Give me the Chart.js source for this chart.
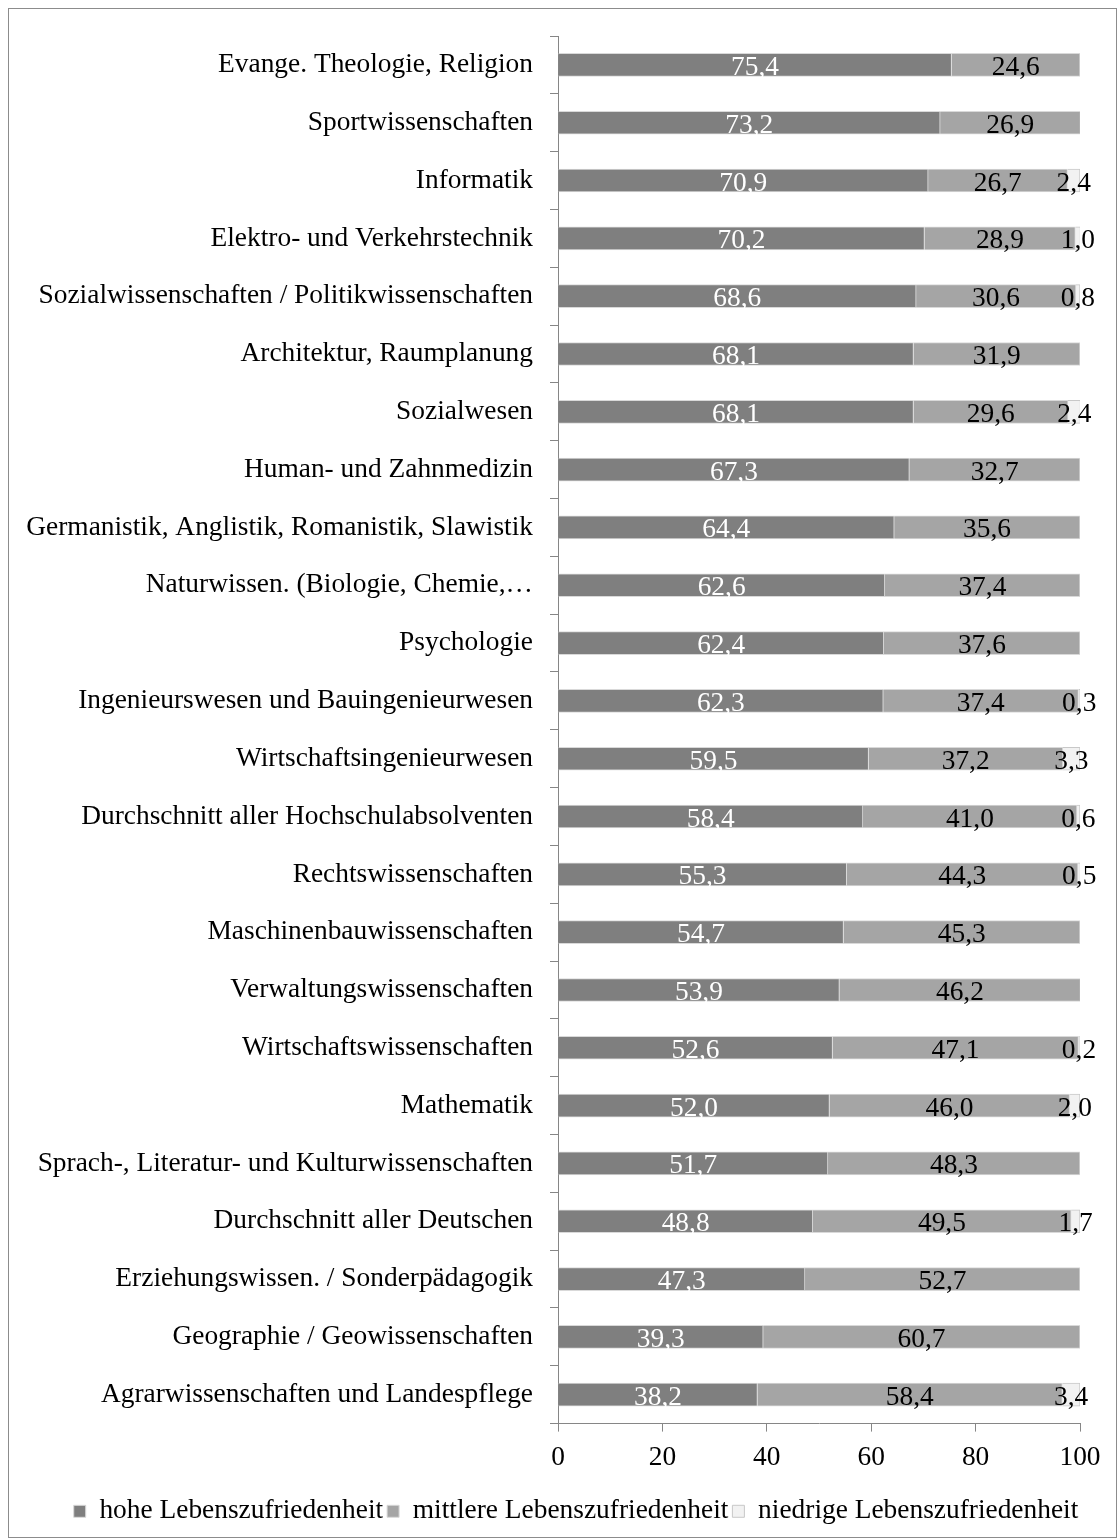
<!DOCTYPE html>
<html>
<head>
<meta charset="utf-8">
<script src="https://cdn.jsdelivr.net/npm/chart.js@4/dist/chart.umd.min.js"></script>
<style>
html,body{margin:0;padding:0;background:#fff;}
#wrap{position:relative;width:1118px;height:1539px;}
</style>
</head>
<body>
<div id="wrap"><canvas id="c" width="1118" height="1539"></canvas></div>
<script>
const categories = [
  "Evange. Theologie, Religion",
  "Sportwissenschaften",
  "Informatik",
  "Elektro- und Verkehrstechnik",
  "Sozialwissenschaften / Politikwissenschaften",
  "Architektur, Raumplanung",
  "Sozialwesen",
  "Human- und Zahnmedizin",
  "Germanistik, Anglistik, Romanistik, Slawistik",
  "Naturwissen. (Biologie, Chemie,…",
  "Psychologie",
  "Ingenieurswesen und Bauingenieurwesen",
  "Wirtschaftsingenieurwesen",
  "Durchschnitt aller Hochschulabsolventen",
  "Rechtswissenschaften",
  "Maschinenbauwissenschaften",
  "Verwaltungswissenschaften",
  "Wirtschaftswissenschaften",
  "Mathematik",
  "Sprach-, Literatur- und Kulturwissenschaften",
  "Durchschnitt aller Deutschen",
  "Erziehungswissen. / Sonderpädagogik",
  "Geographie / Geowissenschaften",
  "Agrarwissenschaften und Landespflege"
];
const seriesNames = ["hohe Lebenszufriedenheit", "mittlere Lebenszufriedenheit", "niedrige Lebenszufriedenheit"];
const hohe = [75.4, 73.2, 70.9, 70.2, 68.6, 68.1, 68.1, 67.3, 64.4, 62.6, 62.4, 62.3, 59.5, 58.4, 55.3, 54.7, 53.9, 52.6, 52.0, 51.7, 48.8, 47.3, 39.3, 38.2];
const mittlere = [24.6, 26.9, 26.7, 28.9, 30.6, 31.9, 29.6, 32.7, 35.6, 37.4, 37.6, 37.4, 37.2, 41.0, 44.3, 45.3, 46.2, 47.1, 46.0, 48.3, 49.5, 52.7, 60.7, 58.4];
const niedrige = [null, null, 2.4, 1.0, 0.8, null, 2.4, null, null, null, null, 0.3, 3.3, 0.6, 0.5, null, null, 0.2, 2.0, null, 1.7, null, null, 3.4];
const xTicks = [0, 20, 40, 60, 80, 100];

const FONT = '"Liberation Serif", "Times New Roman", serif';
const FS = 27.4;
const AXIS = '#868686';

const labelPlugin = {
  id: 'segLabels',
  afterDatasetsDraw(chart) {
    const ctx = chart.ctx;
    ctx.save();
    ctx.font = FS + 'px ' + FONT;
    ctx.textAlign = 'center';
    ctx.textBaseline = 'alphabetic';
    chart.data.datasets.forEach((ds, di) => {
      const meta = chart.getDatasetMeta(di);
      meta.data.forEach((el, i) => {
        const v = ds.data[i];
        if (v === null || v === undefined) return;
        const cx = (el.x + el.base) / 2;
        ctx.fillStyle = di === 0 ? '#ffffff' : '#000000';
        ctx.fillText(v.toFixed(1).replace('.', ','), cx, el.y + 10);
      });
    });
    ctx.restore();
  }
};

const framePlugin = {
  id: 'frame',
  afterLayout(chart) {
    if (chart.legend) { chart.legend.left += 36; chart.legend.right += 36; }
  },
  beforeDraw(chart) {
    const ctx = chart.ctx;
    ctx.save();
    ctx.fillStyle = '#fff';
    ctx.fillRect(0, 0, chart.width, chart.height);
    ctx.strokeStyle = '#8c8c8c';
    ctx.lineWidth = 1;
    ctx.strokeRect(8.5, 8.5, 1108, 1529);
    ctx.restore();
  }
};

new Chart(document.getElementById('c'), {
  type: 'bar',
  data: {
    labels: categories,
    datasets: [
      { label: seriesNames[0], data: hohe, backgroundColor: '#7f7f7f', borderColor: '#d9d9d9', borderWidth: 1, barThickness: 23 },
      { label: seriesNames[1], data: mittlere, backgroundColor: '#a5a5a5', borderColor: '#d9d9d9', borderWidth: 1, barThickness: 23 },
      { label: seriesNames[2], data: niedrige, backgroundColor: '#f2f2f2', borderColor: '#c8c8c8', borderWidth: 1, barThickness: 23 }
    ]
  },
  options: {
    indexAxis: 'y',
    responsive: false,
    animation: false,
    devicePixelRatio: 1,
    layout: { padding: { top: 36, left: 0, right: 38, bottom: 4 } },
    plugins: {
      legend: {
        position: 'bottom',
        labels: {
          font: { family: FONT, size: FS },
          color: '#000',
          boxWidth: 12,
          boxHeight: 12,
          padding: 4
        }
      },
      tooltip: { enabled: false }
    },
    scales: {
      x: {
        stacked: true,
        min: 0,
        max: 100,
        afterBuildTicks(scale) { scale.ticks = xTicks.map(v => ({ value: v })); },
        afterFit(scale) { scale.height = 70; },
        ticks: { font: { family: FONT, size: FS }, color: '#000', padding: 10 },
        grid: { drawOnChartArea: false, drawTicks: true, tickLength: 8, color: AXIS },
        border: { display: true, color: AXIS }
      },
      y: {
        stacked: true,
        afterFit(scale) { scale.width = 558; },
        ticks: { font: { family: FONT, size: FS }, color: '#000', padding: 17, autoSkip: false },
        grid: { offset: true, drawOnChartArea: false, drawTicks: true, tickLength: 8, color: AXIS },
        border: { display: true, color: AXIS }
      }
    }
  },
  plugins: [framePlugin, labelPlugin]
});
</script>
</body>
</html>
